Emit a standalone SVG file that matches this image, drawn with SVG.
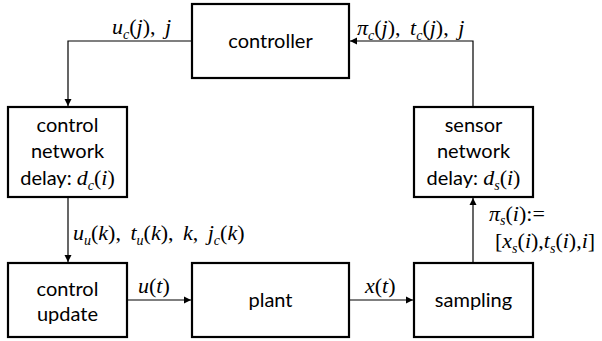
<svg xmlns="http://www.w3.org/2000/svg" width="602" height="341" viewBox="0 0 602 341">
<defs>
<marker id="ah" markerWidth="8" markerHeight="8" refX="7" refY="4" orient="auto" markerUnits="userSpaceOnUse">
<path d="M0,0.5 L7,4 L0,7.5 z" fill="#000"/>
</marker>
<style>
.box{fill:#fff;stroke:#000;stroke-width:2.2}
.lbl{font-family:Lato,"Liberation Sans",sans-serif;font-size:20px;fill:#000;text-anchor:middle}
.m{font-family:"Liberation Serif",serif;font-size:22px;fill:#000;word-spacing:4px}
.i{font-style:italic}
.s{font-size:14px;font-style:italic}
.conn{fill:none;stroke:#000;stroke-width:1.2}
</style>
</defs>
<g id="connectors">
<path class="conn" d="M192,41 H68 V106" marker-end="url(#ah)"/>
<path class="conn" d="M473,107 V41 H350" marker-end="url(#ah)"/>
<path class="conn" d="M68,197 V262" marker-end="url(#ah)"/>
<path class="conn" d="M473,263 V198" marker-end="url(#ah)"/>
<path class="conn" d="M127,300 H191" marker-end="url(#ah)"/>
<path class="conn" d="M349,300 H413" marker-end="url(#ah)"/>
<text class="m" x="112" y="34"><tspan class="i">u</tspan><tspan class="s" dy="5">c</tspan><tspan dy="-5">(</tspan><tspan class="i">j</tspan>), <tspan class="i">j</tspan></text>
<text class="m" x="357" y="35"><tspan class="i">π</tspan><tspan class="s" dy="5">c</tspan><tspan dy="-5">(</tspan><tspan class="i">j</tspan>), <tspan class="i">t</tspan><tspan class="s" dy="5">c</tspan><tspan dy="-5">(</tspan><tspan class="i">j</tspan>), <tspan class="i">j</tspan></text>
<text class="m" x="73" y="240"><tspan class="i">u</tspan><tspan class="s" dy="5">u</tspan><tspan dy="-5">(</tspan><tspan class="i">k</tspan>), <tspan class="i">t</tspan><tspan class="s" dy="5">u</tspan><tspan dy="-5">(</tspan><tspan class="i">k</tspan>), <tspan class="i">k</tspan>, <tspan class="i">j</tspan><tspan class="s" dy="5">c</tspan><tspan dy="-5">(</tspan><tspan class="i">k</tspan>)</text>
<text class="m" x="138" y="293"><tspan class="i">u</tspan>(<tspan class="i">t</tspan>)</text>
<text class="m" x="365" y="293"><tspan class="i">x</tspan>(<tspan class="i">t</tspan>)</text>
<text class="m" x="489" y="221"><tspan class="i">π</tspan><tspan class="s" dy="4">s</tspan><tspan dy="-4">(</tspan><tspan class="i">i</tspan>):=</text>
<text class="m" x="495" y="248">[<tspan class="i">x</tspan><tspan class="s" dy="5">s</tspan><tspan dy="-5">(</tspan><tspan class="i">i</tspan>),<tspan class="i">t</tspan><tspan class="s" dy="5">s</tspan><tspan dy="-5">(</tspan><tspan class="i">i</tspan>),<tspan class="i">i</tspan>]</text>
</g>
<g id="controller">
<rect class="box" x="192" y="4" width="157" height="74"/>
<text class="lbl" x="270.5" y="48">controller</text>
</g>
<g id="control-network">
<rect class="box" x="8" y="107" width="119" height="90"/>
<text class="lbl" x="67.5" y="132">control</text>
<text class="lbl" x="67.5" y="158">network</text>
<text class="lbl" x="67.5" y="185">delay: <tspan class="m i">d</tspan><tspan class="s" font-family="Liberation Serif" dy="5">c</tspan><tspan class="m" dy="-5">(</tspan><tspan class="m i">i</tspan><tspan class="m">)</tspan></text>
</g>
<g id="sensor-network">
<rect class="box" x="414" y="107" width="119" height="90"/>
<text class="lbl" x="473.5" y="132">sensor</text>
<text class="lbl" x="473.5" y="158">network</text>
<text class="lbl" x="473.5" y="185">delay: <tspan class="m i">d</tspan><tspan class="s" font-family="Liberation Serif" dy="5">s</tspan><tspan class="m" dy="-5">(</tspan><tspan class="m i">i</tspan><tspan class="m">)</tspan></text>
</g>
<g id="control-update">
<rect class="box" x="8" y="263" width="119" height="74"/>
<text class="lbl" x="67.5" y="296">control</text>
<text class="lbl" x="67.5" y="321">update</text>
</g>
<g id="plant">
<rect class="box" x="192" y="263" width="157" height="74"/>
<text class="lbl" x="270.5" y="307">plant</text>
</g>
<g id="sampling">
<rect class="box" x="414" y="263" width="119" height="74"/>
<text class="lbl" x="473.5" y="307">sampling</text>
</g>
</svg>
